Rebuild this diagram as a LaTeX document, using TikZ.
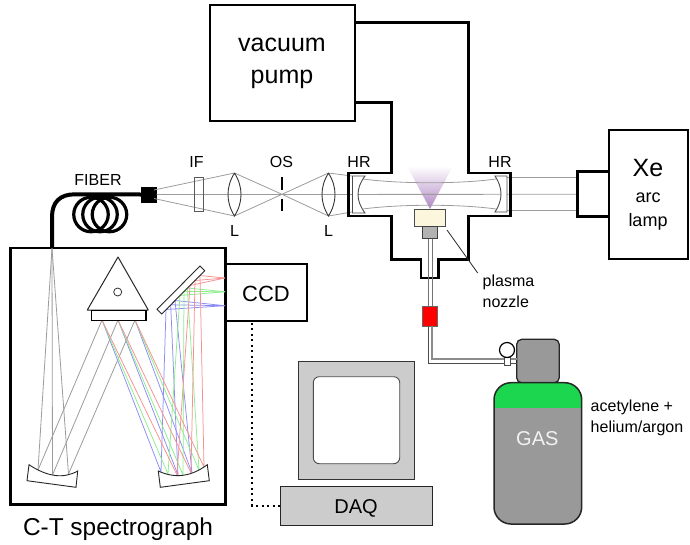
\documentclass[tikz,border=0pt]{standalone}
\usepackage{fontspec}
\setmainfont{Liberation Sans}
\usetikzlibrary{calc}
\definecolor{rayg}{HTML}{9C9C9C}
\definecolor{rayb}{HTML}{8C8CF5}
\definecolor{rayv}{HTML}{8CEE8C}
\definecolor{rayr}{HTML}{F89090}
\definecolor{gasgreen}{HTML}{1CD650}
\definecolor{gasgrey}{HTML}{999999}
\definecolor{cream}{HTML}{FBF6DC}
\definecolor{daqgrey}{HTML}{CCCCCC}
\definecolor{plume}{HTML}{B088C4}
\definecolor{plumemid}{HTML}{E6DAEE}
\tikzset{
  box/.style={draw=black,line width=2.5pt,fill=white,anchor=north west,inner sep=0pt,outer sep=0pt},
  lab/.style={anchor=base,inner sep=0pt,outer sep=0pt,font=\fontsize{16}{18}\selectfont},
  labl/.style={lab,font=\fontsize{#1}{#1}\selectfont},
  wall/.style={line width=2.5pt,line join=miter},
  ray/.style={draw=rayg,line width=0.8pt},
  bray/.style={draw=rayb,line width=0.75pt},
  vray/.style={draw=rayv,line width=0.75pt},
  rray/.style={draw=rayr,line width=0.75pt},
  optic/.style={draw=black!70,line width=0.9pt,fill=white},
  tubeline/.style={draw=black!55,line width=1pt},
}
\begin{document}
\begin{tikzpicture}[x=1pt,y=-1pt]
\useasboundingbox (0,0) rectangle (690,544);

% --- spectrograph housing and CCD
\node[box,minimum width=215pt,minimum height=256.5pt] (spec) at (10.5,248) {};
\node[box,minimum width=81pt,minimum height=57pt] (ccd) at (226,264) {};

% --- reference points of the optical paths
\coordinate (slit) at (52,248);
\coordinate (g1) at (102,320); \coordinate (g2) at (118,320); \coordinate (g3) at (135,320);
\coordinate (la) at (38,470); \coordinate (lb) at (52.5,475); \coordinate (lc) at (68.5,474);
\coordinate (cb) at (225,305.7); \coordinate (cv) at (225,291.7); \coordinate (cr) at (225,278);

% --- rays inside the spectrograph
\foreach \p in {la,lb,lc} \draw[ray] (slit) -- (\p);
\draw[ray] (la) -- (g1); \draw[ray] (lb) -- (g2); \draw[ray] (lc) -- (g3);

\draw[bray] (g1) -- (161,472) -- (166,309.5) -- (cb);
\draw[bray] (g2) -- (178,475) -- (170.7,304.8) -- (cb);
\draw[bray] (g3) -- (192,473) -- (175,300.5) -- (cb);
\draw[vray] (g1) -- (168,474) -- (180,295.5) -- (cv);
\draw[vray] (g2) -- (183,475) -- (184,291.5) -- (cv);
\draw[vray] (g3) -- (199,470) -- (187.3,288) -- (cv);
\draw[rray] (g1) -- (177,475) -- (190,285.5) -- (cr);
\draw[rray] (g2) -- (191,473) -- (195,280.5) -- (cr);
\draw[rray] (g3) -- (204,467) -- (200,275.5) -- (cr);

% --- spectrograph optics
\draw[line width=1pt,line join=round,draw=black!85,fill=white] (118,257) -- (148.3,310) -- (87.3,310) -- cycle;
\node[draw=black!80,line width=0.8pt,circle,minimum size=8pt,inner sep=0pt] (pivot) at (117.7,292) {};
\node[draw=black,line width=1.4pt,fill=white,anchor=north west,inner sep=0pt,minimum width=54.5pt,minimum height=10pt] (grating) at (90.8,310) {};
\draw[line width=0.9pt,draw=black!85,fill=white] (200,266) -- (204.7,270.7) -- (161.7,314) -- (157,309.3) -- cycle;
\draw[line width=0.9pt,draw=black!85,fill=white] (29,464.7) .. controls (47.4,476.9) and (63.7,479) .. (77.7,471) -- (76,487.3) -- (27,480.7) -- cycle;
\draw[line width=0.9pt,draw=black!85,fill=white] (158.3,471) .. controls (174.9,478.8) and (191.2,476.7) .. (207.3,464.7) -- (209.3,480.7) -- (160.3,487.3) -- cycle;

% --- plasma plume
\shade[top color=white,middle color=plumemid,bottom color=plume] (407,166) -- (453,166) -- (430,209) -- cycle;

% --- beam path
\node[draw=black,fill=black,inner sep=0pt,minimum size=15pt,outer sep=0pt] (connector) at (149,194.5) {};
\coordinate (lens1t) at (234.5,173); \coordinate (lens1b) at (234.5,216);
\coordinate (lens2t) at (328.5,173); \coordinate (lens2b) at (328.5,216);
\coordinate (focus) at (282,194.3);
\coordinate (ml1) at (352,176); \coordinate (ml2) at (352,212);
\draw[ray] (connector.east) -- (578,194.3);
\draw[ray] (154,190) -- (lens1t) -- (focus) -- (lens2t) -- (ml1);
\draw[ray] (154,198.5) -- (lens1b) -- (focus) -- (lens2b) -- (ml2);
\draw[ray] (363,179) .. controls (400,184) and (460,184) .. (496,179);
\draw[ray] (363,209) .. controls (400,204) and (460,204) .. (496,209);
\draw[ray] (507,177) -- (578,177);
\draw[ray] (507,210) -- (578,210);

% --- filter, lenses, slit
\node[draw=black!65,line width=0.9pt,anchor=north west,inner sep=0pt,minimum width=9pt,minimum height=34pt] (filter) at (193.7,177) {};
\draw[draw=black!80,line width=0.9pt] (lens1t) .. controls (225.8,187) and (225.8,202) .. (lens1b) .. controls (243.2,202) and (243.2,187) .. (lens1t);
\draw[draw=black!80,line width=0.9pt] (lens2t) .. controls (319.8,187) and (319.8,202) .. (lens2b) .. controls (337.2,202) and (337.2,187) .. (lens2t);
\draw[line width=1.8pt] (281.7,177) -- (281.7,190);
\draw[line width=1.8pt] (281.7,198.5) -- (281.7,211);

% --- fibre
\foreach \cx/\n in {91/c1,100/c2,109.5/c3}
  \node[draw=black,line width=3.2pt,circle,minimum size=34.5pt,inner sep=0pt] (\n) at (\cx,214.5) {};
\draw[line width=4pt] (connector.west) -- (75,194.3) .. controls (60,194.3) and (52,202) .. (52,217) -- (slit);

% --- vacuum pump and chamber
\node[draw=black,line width=2pt,fill=white,anchor=north west,inner sep=0pt,outer sep=0pt,minimum width=145pt,minimum height=116.5pt] (pump) at (209.5,4.5) {};
\coordinate (pa) at (pump.east |- 0,22.3);
\coordinate (pb) at (pump.east |- 0,102.7);
\draw[wall] (pa) -- (468.5,22.3) -- (468.5,173) -- (510.5,173) -- (510.5,216) -- (468.5,216) -- (468.5,259.5) -- (438.5,259.5) -- (438.5,278) -- (421,278) -- (421,259.5) -- (391.7,259.5) -- (391.7,216) -- (348.7,216) -- (348.7,173) -- (391.7,173) -- (391.7,102.7) -- (pb);

% --- cavity mirrors
\draw[optic] (352.5,176) -- (365,176) .. controls (355.7,188.3) and (355.7,200.7) .. (365,213) -- (352.5,213) -- cycle;
\draw[optic] (507,176) -- (495,176) .. controls (503,188) and (503,200) .. (495,212) -- (507,212) -- cycle;

% --- arc lamp
\node[box,minimum width=31.5pt,minimum height=45pt] (housing) at (577.7,171.7) {};
\node[box,minimum width=79pt,minimum height=129pt] (lamp) at (609,130) {};

% --- plasma nozzle and gas line
\draw[tubeline] (428,238) -- (428,306);
\draw[tubeline] (432,238) -- (432,306);
\node[draw=black!70,line width=1pt,fill=cream,anchor=north west,inner sep=0pt,outer sep=0pt,minimum width=31pt,minimum height=17pt] (nozzle) at (414,209) {};
\node[draw=black!75,line width=1pt,fill=black!30,anchor=north west,inner sep=0pt,outer sep=0pt,minimum width=15pt,minimum height=12pt] (holder) at (422,226) {};
\node[draw=black!60,line width=1pt,fill=red,anchor=north west,inner sep=0pt,outer sep=0pt,minimum width=15pt,minimum height=20pt] (valve) at (422,306) {};
\coordinate (ptr) at (447,230);
\coordinate (ptrend) at (477.7,273);
\draw[line width=0.8pt,draw=black!85] (ptr) -- (ptrend);

% --- gas bottle
\node[draw=black!85,line width=1.3pt,fill=gasgrey,anchor=north west,inner sep=0pt,outer sep=0pt,minimum width=42.5pt,minimum height=43.5pt,rounded corners=5pt] (cap) at (516.7,339.3) {};
\draw[draw=black!70,line width=1pt] (428,326) -- (428,363) -- (517,363);
\draw[draw=black!45,line width=1.2pt] (432,326) -- (432,359) -- (517,359);
\node[draw=black!70,line width=0.9pt,fill=white,anchor=north west,inner sep=0pt,outer sep=0pt,minimum width=6pt,minimum height=8pt] (reg) at (504.3,357) {};
\node[draw=black,line width=1.2pt,fill=white,circle,inner sep=0pt,outer sep=0pt,minimum size=15pt] (gauge) at (507,350) {};
\begin{scope}
\clip[rounded corners=17pt] (494,382.7) rectangle (581.7,524);
\fill[gasgreen] (494,382.7) rectangle (581.7,407.7);
\fill[gasgrey] (494,407.7) rectangle (581.7,524);
\end{scope}
\node[draw=black!85,line width=1.5pt,anchor=north west,inner sep=0pt,outer sep=0pt,minimum width=87.7pt,minimum height=141.3pt,rounded corners=17pt] (bottle) at (494,382.7) {};

% --- DAQ computer
\node[draw=black!80,line width=1pt,fill=daqgrey,anchor=north west,inner sep=0pt,outer sep=0pt,minimum width=116.7pt,minimum height=117.7pt] (monitor) at (298,361.3) {};
\node[draw=black!70,line width=0.9pt,fill=white,anchor=north west,inner sep=0pt,outer sep=0pt,minimum width=86.4pt,minimum height=87pt,rounded corners=6pt] (screen) at (313.3,376.7) {};
\node[draw=black!85,line width=1pt,fill=daqgrey,anchor=north west,inner sep=0pt,outer sep=0pt,minimum width=152.4pt,minimum height=39pt] (daq) at (280.3,486.3) {};
\coordinate (ccdout) at (252.3,322.5);
\draw[line width=2pt,dash pattern=on 2pt off 3.5pt] (ccdout) |- (daq.west);

% --- labels
\node[labl=25] (tvac) at (282,51.7) {vacuum};
\node[labl=25] (tpump) at (282,83) {pump};
\node[lab] (tfiber) at (98,185.7) {FIBER};
\node[lab] (tif) at (196.5,167.7) {IF};
\node[lab] (tos) at (281.5,167.7) {OS};
\node[lab] (tl1) at (234.5,236) {L};
\node[lab] (tl2) at (328.5,236) {L};
\node[lab] (thr1) at (359,167.7) {HR};
\node[lab] (thr2) at (500,167.7) {HR};
\node[labl=25] (txe) at (648,176) {Xe};
\node[labl=18] (tarc) at (648,202) {arc};
\node[labl=18] (tlamp) at (648,226.7) {lamp};
\node[labl=22] (tccd) at (266,301) {CCD};
\node[labl=20] (tdaq) at (356,513) {DAQ};
\node[labl=20,text=white!95!black] (tgas) at (537.3,445) {GAS};
\node[labl=24.4] (tct) at (118,535) {C-T spectrograph};
\node[lab,anchor=base west] (tpl) at (482.7,286) {plasma};
\node[lab,anchor=base west] (tno) at (482.7,307) {nozzle};
\node[lab,anchor=base west] (tac) at (590.7,411) {acetylene +};
\node[lab,anchor=base west] (the) at (590.7,432) {helium/argon};
\end{tikzpicture}
\end{document}
